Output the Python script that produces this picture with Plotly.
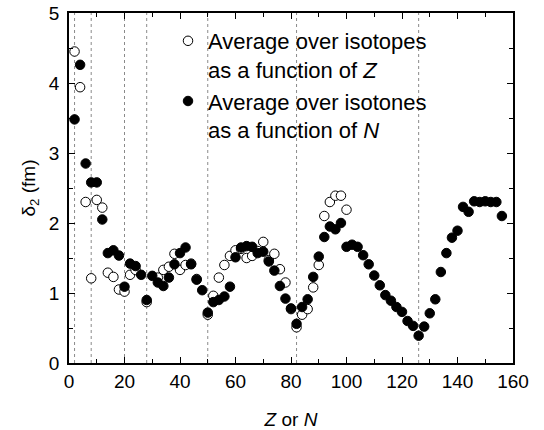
import plotly.graph_objects as go

# Average over isotopes as a function of Z (open circles)
z_vals = [2, 4, 6, 8, 10, 12, 14, 16, 18, 20, 22, 24, 28, 32, 34, 36, 38, 40, 42, 44, 46,
          50, 52, 54, 56, 58, 60, 62, 64, 66, 68, 70, 72, 74, 76, 78, 80, 82, 84, 86, 88,
          90, 92, 94, 96, 98, 100]
delta_z = [4.45, 3.94, 2.30, 1.21, 2.33, 2.22, 1.29, 1.23, 1.05, 1.02, 1.26, 1.33, 0.87,
           1.22, 1.33, 1.375, 1.56, 1.33, 1.40, 1.42, 1.20,
           0.69, 0.96, 1.22, 1.40, 1.53, 1.61, 1.63, 1.50, 1.53, 1.60, 1.73, 1.47, 1.56,
           1.34, 1.15, 0.77, 0.51, 0.69, 0.77, 1.08,
           1.40, 2.10, 2.30, 2.39, 2.39, 2.19]

# Average over isotones as a function of N (filled circles)
n_vals = [2, 4, 6, 8, 10, 12, 14, 16, 18, 20, 22, 24, 26, 28, 30, 32, 34, 36, 38, 40,
          42, 44, 46, 48, 50, 52, 54, 56, 58, 60, 62, 64, 66, 68, 70, 72, 74, 76, 78, 80,
          82, 84, 86, 88, 90, 92, 94, 96, 98, 100, 102, 104, 106, 108, 110, 112, 114, 116,
          118, 120, 122, 124, 126, 128, 130, 132, 134, 136, 138, 140, 142, 144, 146, 148,
          150, 152, 154, 156]
delta_n = [3.48, 4.26, 2.85, 2.58, 2.58, 2.05, 1.57, 1.61, 1.535, 1.09, 1.42, 1.385, 1.26,
           0.90, 1.245, 1.15, 1.10, 1.22, 1.41, 1.57,
           1.65, 1.41, 1.19, 1.04, 0.72, 0.87, 0.90, 0.95, 1.09, 1.51, 1.65, 1.67, 1.66,
           1.57, 1.59, 1.45, 1.32, 1.10, 0.92, 0.78,
           0.56, 0.80, 0.91, 1.23, 1.52, 1.80, 1.95, 1.91, 2.00, 1.66, 1.69, 1.66, 1.54,
           1.41, 1.25, 1.11, 0.97, 0.89,
           0.80, 0.73, 0.60, 0.53, 0.39, 0.52, 0.71, 0.91, 1.30, 1.57, 1.79, 1.89, 2.23,
           2.16, 2.31, 2.30,
           2.31, 2.30, 2.30, 2.10]

magic_numbers = [2, 8, 20, 28, 50, 82, 126]

FONT = "Liberation Sans, Arial, Helvetica, sans-serif"

fig = go.Figure()

for m in magic_numbers:
    fig.add_vline(x=m, line=dict(color="#8a8a8a", width=1, dash="dot"), layer="below")

fig.add_trace(go.Scatter(
    x=z_vals, y=delta_z, mode="markers",
    name="Average over isotopes<br>as a function of <i>Z</i>",
    marker=dict(symbol="circle", size=9.5, color="white",
                line=dict(color="black", width=1)),
))
fig.add_trace(go.Scatter(
    x=n_vals, y=delta_n, mode="markers",
    name="Average over isotones<br>as a function of <i>N</i>",
    marker=dict(symbol="circle", size=9.5, color="black",
                line=dict(color="black", width=1)),
))

axis_common = dict(
    showline=True, linecolor="black", linewidth=1.6, mirror="allticks",
    ticks="inside", ticklen=6, tickwidth=1.3, tickcolor="black",
    showgrid=False, zeroline=False, automargin=False,
    tickfont=dict(family=FONT, size=19, color="black"),
)

fig.update_xaxes(
    range=[0, 160], tick0=0, dtick=20,
    minor=dict(ticks="inside", dtick=10, ticklen=4, tickwidth=1.2, tickcolor="black"),
    title=dict(text="<i>Z</i> or <i>N</i>", font=dict(family=FONT, size=19, color="black"),
               standoff=22),
    **axis_common,
)
fig.update_yaxes(
    range=[0, 5], tick0=0, dtick=1,
    minor=dict(ticks="inside", dtick=0.5, ticklen=4, tickwidth=1.2, tickcolor="black"),
    title=dict(text="δ<sub>2</sub> (fm)", font=dict(family=FONT, size=19, color="black"),
               standoff=8),
    ticklabelstandoff=4,
    **axis_common,
)

fig.update_layout(
    width=544, height=430,
    margin=dict(l=69, r=31, t=13, b=67),
    paper_bgcolor="white", plot_bgcolor="white",
    font=dict(family=FONT, color="black"),
    legend=dict(
        x=0.223, y=0.98, xanchor="left", yanchor="top",
        font=dict(family=FONT, size=22, color="black"),
        bgcolor="rgba(0,0,0,0)", borderwidth=0,
        valign="top", tracegroupgap=0, itemwidth=30,
    ),
)

fig.write_html("out.html")
